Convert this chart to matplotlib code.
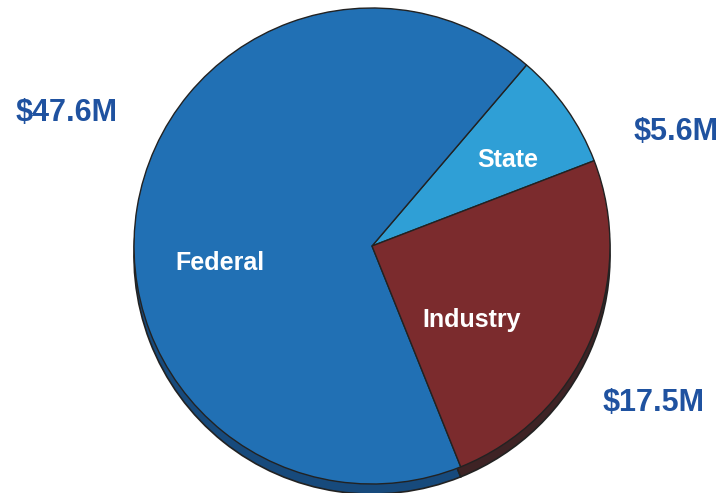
import matplotlib.pyplot as plt
from matplotlib.patches import Ellipse

# Funding sources (millions of dollars)
sources = ["State", "Federal", "Industry"]
amounts = [5.6, 47.6, 17.5]
amount_labels = ["$5.6M", "$47.6M", "$17.5M"]

face_colors = ["#2f9fd6", "#2170b4", "#7b2b2d"]
shadow_colors = ["#1d5f85", "#174a7c", "#3e2325"]

W, H = 723, 493
fig = plt.figure(figsize=(W / 100, H / 100), dpi=100)
ax = fig.add_axes([0, 0, 1, 1])
ax.set_xlim(0, W)
ax.set_ylim(0, H)
ax.set_aspect("equal")
ax.axis("off")

cx, cy, r = 372, H - 246, 238
start = 21

# shadow layer (3D edge) slightly below the top face
ax.pie(amounts, colors=shadow_colors, startangle=start, radius=r,
       center=(cx, cy - 10), frame=True,
       wedgeprops=dict(edgecolor="#222222", linewidth=1.2))
ax.pie(amounts, colors=face_colors, startangle=start, radius=r,
       center=(cx, cy), frame=True,
       wedgeprops=dict(edgecolor="#222222", linewidth=1.0))
ax.set_xlim(0, W)
ax.set_ylim(0, H)
ax.axis("off")

font = ["Liberation Sans", "DejaVu Sans"]

# slice names inside the pie
inner_pos = {"State": (508, 160), "Federal": (220, 263), "Industry": (472, 320)}
for name in sources:
    x, y = inner_pos[name]
    ax.text(x, H - y, name, color="white", fontsize=18, fontweight="bold",
            ha="center", va="center", family=font)

# dollar amounts outside the pie
outer_pos = {"State": (676, 132), "Federal": (67, 113), "Industry": (654, 403)}
for name, lab in zip(sources, amount_labels):
    x, y = outer_pos[name]
    ax.text(x, H - y, lab, color="#1f52a0", fontsize=22, fontweight="bold",
            ha="center", va="center", family=font)

fig.savefig("out.png", dpi=100)
